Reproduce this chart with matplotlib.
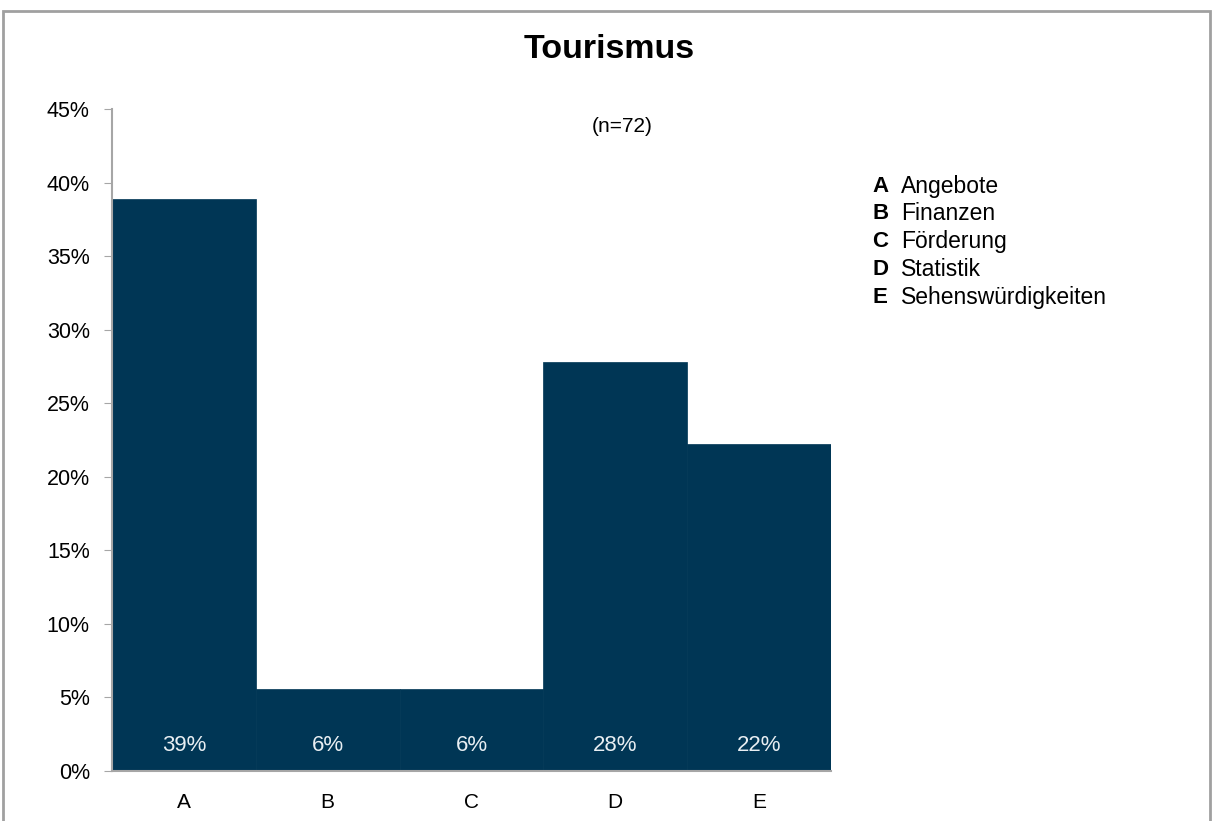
import numpy as np
import matplotlib.pyplot as plt
from matplotlib.patches import Rectangle

plt.rcParams['font.family'] = ['Liberation Sans', 'DejaVu Sans']

# Antworten (n=72), Anteile in Prozent
categories = ['A', 'B', 'C', 'D', 'E']
counts = [28, 4, 4, 20, 16]
n_total = 72
shares = [100.0 * c / n_total for c in counts]
legend_names = ['Angebote', 'Finanzen', 'Förderung', 'Statistik', 'Sehenswürdigkeiten']
yticks = [0, 5, 10, 15, 20, 25, 30, 35, 40, 45]

bar_color = '#003655'
axis_gray = '#a6a6a6'

W, H = 1213, 821
fig = plt.figure(figsize=(W / 100, H / 100), dpi=100)

# grauer Rahmen um das Diagramm
fig.patches.append(Rectangle((3 / W, -0.05), (1210 - 3) / W, 1.05 - 11 / H,
                             transform=fig.transFigure, fill=False,
                             edgecolor='#a0a0a0', linewidth=2))

ax = fig.add_axes([112 / W, 1 - 771 / H, (831 - 112) / W, (771 - 109) / H])

x = np.arange(len(categories))
ax.bar(x, shares, width=1.0, color=bar_color, edgecolor=bar_color, linewidth=0.5)

for xi, s in zip(x, shares):
    ax.text(xi, 1.7, f'{s:.0f}%', ha='center', va='center', color='#e8eef2', fontsize=16)

ax.set_xlim(-0.5, len(categories) - 0.5)
ax.set_ylim(0, 45)
ax.set_yticks(yticks)
ax.set_yticklabels([f'{t}%' for t in yticks], fontsize=15.5)
ax.set_xticks(x)
ax.set_xticklabels(categories, fontsize=15)
ax.tick_params(axis='y', length=6, color=axis_gray, pad=10)
ax.tick_params(axis='x', length=0, pad=16)

for side in ['top', 'right']:
    ax.spines[side].set_visible(False)
for side in ['left', 'bottom']:
    ax.spines[side].set_color(axis_gray)
    ax.spines[side].set_linewidth(1.5)

fig.text(609 / W, 1 - 50 / H, 'Tourismus', ha='center', va='center',
         fontsize=24.5, fontweight='bold')
fig.text(622 / W, 1 - 127 / H, f'(n={n_total})', ha='center', va='center', fontsize=15)

# Legende rechts
for i, (c, name) in enumerate(zip(categories, legend_names)):
    yy = 1 - (186 + 27.8 * i) / H
    fig.text(872 / W, yy, c, ha='left', va='center', fontsize=16, fontweight='bold')
    fig.text(901 / W, yy, name, ha='left', va='center', fontsize=16.5)

fig.savefig('out.png', dpi=100)
